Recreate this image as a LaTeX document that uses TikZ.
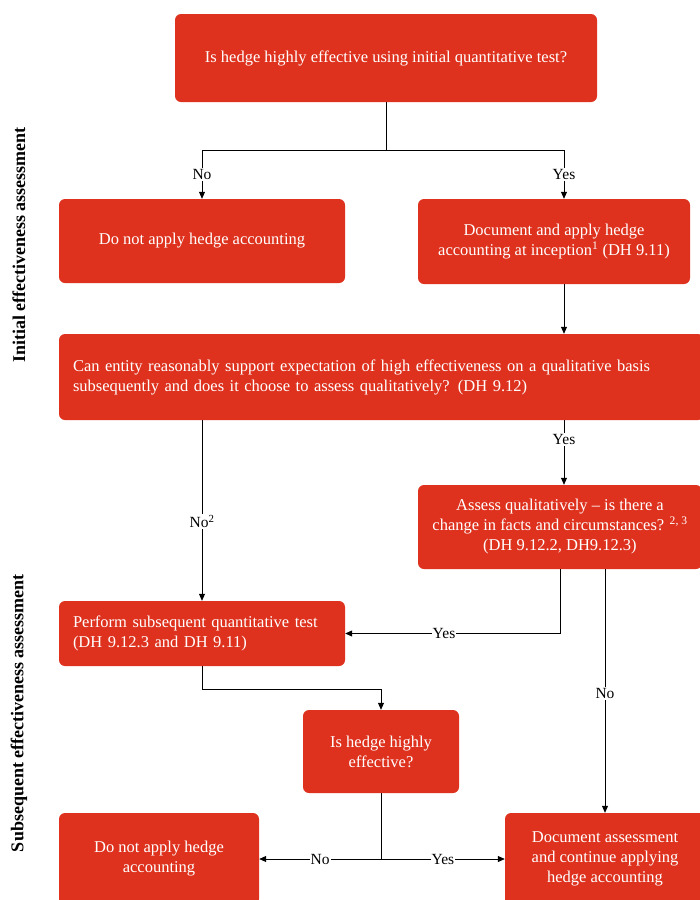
\documentclass[tikz,border=0pt]{standalone}
\usepackage{fontspec}
\setmainfont{Liberation Serif}
\usetikzlibrary{arrows.meta}
\definecolor{pwcred}{RGB}{222,50,30}
\begin{document}
\begin{tikzpicture}[x=1pt,y=-1pt,
  box/.style={fill=pwcred, rounded corners=6pt, text=white, font=\fontsize{16.5}{20}\selectfont, align=center, inner sep=0pt},
  lbl/.style={fill=white, inner sep=1pt, font=\fontsize{15.5}{17}\selectfont},
  side/.style={rotate=90, font=\bfseries\fontsize{18}{20}\selectfont},
  arr/.style={-{Triangle[length=7pt,width=6pt]}, line width=0.8pt},
  ln/.style={line width=0.8pt}]
\useasboundingbox (0,0) rectangle (700,900);

\node[box, minimum width=422pt, minimum height=88pt] (b1) at (386,58) {Is hedge highly effective using initial quantitative test?};
\node[box, minimum width=286pt, minimum height=84pt] (b2) at (202,241) {Do not apply hedge accounting};
\node[box, minimum width=272pt, minimum height=85pt] (b3) at (554,241.5) {Document and apply hedge\\accounting at inception\textsuperscript{1} (DH 9.11)};
\node[box, align=left, inner xsep=14pt, text width=617pt, minimum height=86pt] (b4) at (381.5,377) {Can entity reasonably support expectation of high effectiveness on a qualitative basis\\subsequently and does it choose to assess qualitatively? (DH 9.12)};
\node[box, minimum width=284pt, minimum height=84pt] (b5) at (560,527) {Assess qualitatively -- is there a\\change in facts and circumstances? \textsuperscript{2, 3}\\(DH 9.12.2, DH9.12.3)};
\node[box, align=left, inner xsep=14pt, text width=258pt, minimum height=65pt] (b6) at (202,633.5) {Perform subsequent quantitative test\\(DH 9.12.3 and DH 9.11)};
\node[box, minimum width=156pt, minimum height=83pt] (b7) at (381,751.5) {Is hedge highly\\effective?};
\node[box, minimum width=200pt, minimum height=92pt] (b8) at (159,859) {Do not apply hedge\\accounting};
\node[box, minimum width=200pt, minimum height=92pt] (b9) at (605,859) {Document assessment\\and continue applying\\hedge accounting};

\node[side] (s1) at (19,245) {Initial effectiveness assessment};
\node[side] (s2) at (19,713) {Subsequent effectiveness assessment};

\coordinate (j1) at (386,150);
\draw[ln] (b1.south) -- (j1);
\draw[arr] (j1) -| node[lbl, pos=0.75] {No} (b2.north);
\draw[arr] (j1) -| node[lbl, pos=0.75] {Yes} ([xshift=10pt]b3.north);
\draw[arr] ([xshift=10pt]b3.south) -- ([xshift=10pt]b3.south |- b4.north);
\draw[arr] (b4.south -| b6.north) -- node[lbl, pos=0.56] {No\textsuperscript{2}} (b6.north);
\draw[arr] (b4.south -| 564,0) -- node[lbl, pos=0.3] {Yes} (b5.north -| 564,0);
\draw[arr] (b5.south) |- node[lbl, pos=0.77] {Yes} (b6.east);
\draw[arr] (b5.south -| b9.north) -- node[lbl, pos=0.51] {No} (b9.north);
\draw[arr] (b6.south) -- ++(0,23) -| (b7.north);
\coordinate (j2) at (b7.south |- b8.east);
\draw[ln] (b7.south) -- (j2);
\draw[arr] (j2) -- node[lbl] {No} (b8.east);
\draw[arr] (j2) -- node[lbl] {Yes} (b9.west);
\end{tikzpicture}
\end{document}
